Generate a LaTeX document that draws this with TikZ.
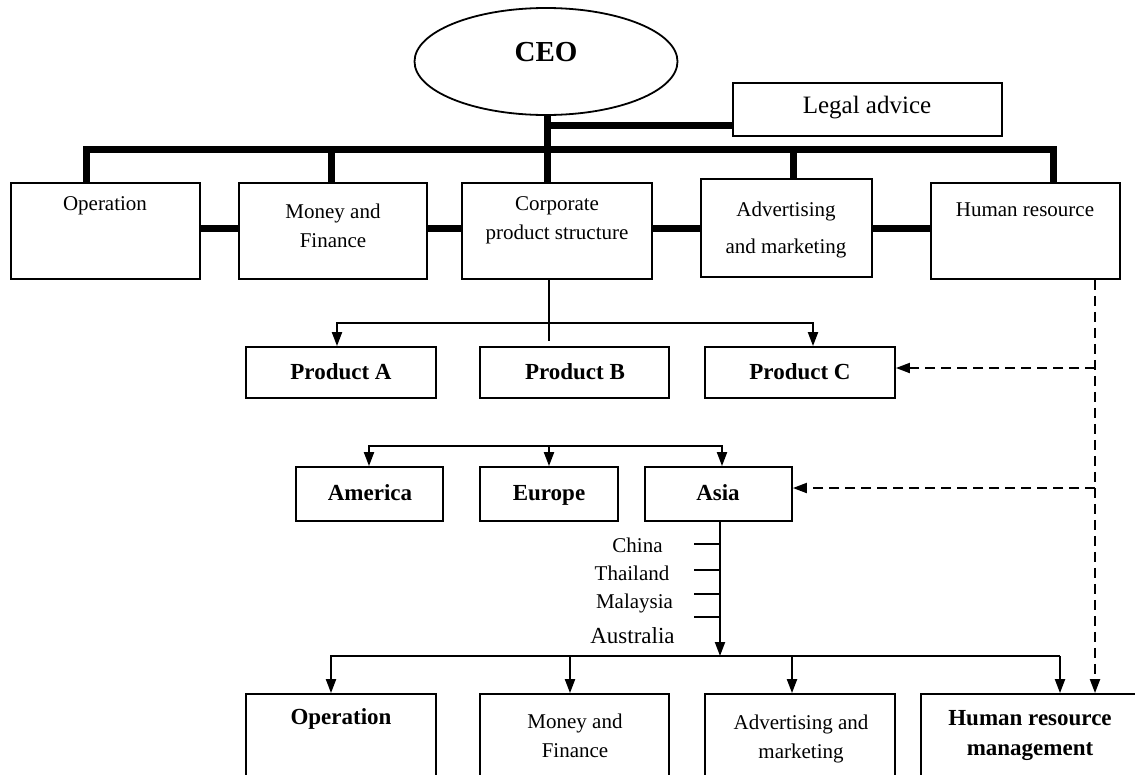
\documentclass[tikz,border=0pt]{standalone}
\usepackage{fontspec}
\setmainfont{Liberation Serif}
\usetikzlibrary{arrows.meta,shapes.geometric}
\begin{document}
\begin{tikzpicture}[x=1pt,y=-1pt,
  box/.style={draw,line width=1.8pt,inner sep=0pt},
  bar/.style={line width=7pt},
  ln/.style={line width=2pt},
  arr/.style={line width=2pt,-{Triangle[length=14pt,width=10pt]}},
  dsh/.style={line width=2pt,dash pattern=on 10pt off 6pt,-{Triangle[length=14pt,width=10pt]}},
  txt/.style={inner sep=0pt,align=center,font=\fontsize{21}{29}\selectfont},
  btxt/.style={inner sep=0pt,align=center,font=\bfseries\fontsize{23}{30}\selectfont}]
\useasboundingbox (0,0) rectangle (1135,774);
\clip (0,0) rectangle (1135,774);

% shapes
\node[ellipse,draw,line width=1.8pt,minimum width=263pt,minimum height=107pt,inner sep=0pt] (ceo) at (546,61.5) {};
\node[box,minimum width=269pt,minimum height=53pt] (legal) at (867.5,109.5) {};
\node[box,minimum width=189pt,minimum height=96pt] (op1) at (105.5,231) {};
\node[box,minimum width=188pt,minimum height=96pt] (mf1) at (333,231) {};
\node[box,minimum width=190pt,minimum height=96pt] (cps) at (557,231) {};
\node[box,minimum width=171pt,minimum height=98pt] (adv1) at (786.5,228) {};
\node[box,minimum width=189pt,minimum height=96pt] (hr1) at (1025.5,231) {};
\node[box,minimum width=190pt,minimum height=51pt] (pa) at (341,372.5) {};
\node[box,minimum width=189pt,minimum height=51pt] (pb) at (574.5,372.5) {};
\node[box,minimum width=190pt,minimum height=51pt] (pc) at (800,372.5) {};
\node[box,minimum width=147pt,minimum height=54pt] (am) at (369.5,494) {};
\node[box,minimum width=138pt,minimum height=54pt] (eu) at (549,494) {};
\node[box,minimum width=147pt,minimum height=54pt] (as) at (718.5,494) {};
\node[box,minimum width=190pt,minimum height=100pt] (op2) at (341,744) {};
\node[box,minimum width=189pt,minimum height=100pt] (mf2) at (574.5,744) {};
\node[box,minimum width=190pt,minimum height=100pt] (adv2) at (800,744) {};
\node[box,minimum width=219pt,minimum height=100pt] (hr2) at (1030.5,744) {};

% texts
\node[inner sep=0pt,font=\bfseries\fontsize{29}{32}\selectfont] (tceo) at (546,52) {CEO};
\node[inner sep=0pt,font=\fontsize{25}{28}\selectfont] (tlegal) at (867,108) {Legal advice};
\node[txt] (top1) at (105,206) {Operation};
\node[txt] (tmf1) at (333,225.5) {Money and\\Finance};
\node[txt] (tcps) at (557,220) {Corporate\\product structure};
\node[txt,font=\fontsize{21}{37}\selectfont] (tadv1) at (786,229.5) {Advertising\\and marketing};
\node[txt] (thr1) at (1025,210) {Human resource};
\node[btxt] (tpa) at (341,372) {Product A};
\node[btxt] (tpb) at (575,372) {Product B};
\node[btxt] (tpc) at (800,372) {Product C};
\node[btxt] (tam) at (370,493) {America};
\node[btxt] (teu) at (549,495.5) {Europe};
\node[btxt] (tas) at (718,493) {Asia};
\node[txt] (tchina) at (637.5,545) {China};
\node[txt] (tthai) at (632,573) {Thailand};
\node[txt] (tmal) at (634.5,603) {Malaysia};
\node[txt,font=\fontsize{23}{26}\selectfont] (taus) at (632.5,636) {Australia};
\node[btxt] (top2) at (341,719) {Operation};
\node[txt] (tmf2) at (575,735.5) {Money and\\Finance};
\node[txt] (tadv2) at (801,738.5) {Advertising and\\marketing};
\node[btxt] (thr2) at (1030,735) {Human resource\\management};

% thick top connectors
\coordinate (cj) at (547,125);
\coordinate (b1) at (86,149);
\coordinate (b2) at (331,149);
\coordinate (b3) at (547,149);
\coordinate (b4) at (793,149);
\coordinate (b5) at (1053,149);
\draw[bar] (ceo.south -| b3) -- (b3 |- cps.north);
\draw[bar] (cj) -- (cj -| legal.west);
\draw[bar] (b1 |- op1.north) -- (b1) -- (b5) -- (b5 |- hr1.north);
\draw[bar] (b2) -- (b2 |- mf1.north);
\draw[bar] (b4) -- (b4 |- adv1.north);
\draw[bar] (op1.east |- adv1.center) -- (mf1.west |- adv1.center);
\draw[bar] (mf1.east |- adv1.center) -- (cps.west |- adv1.center);
\draw[bar] (cps.east |- adv1.center) -- (adv1.west);
\draw[bar] (adv1.east) -- (hr1.west |- adv1.center);

% products
\coordinate (pbj) at (549,323);
\coordinate (pbe) at (549,341);
\coordinate (pal) at (337,323);
\coordinate (par) at (813,323);
\draw[ln] (pbj |- cps.south) -- (pbe);
\draw[arr] (pbj) -- (pal) -- (pal |- pa.north);
\draw[arr] (pbj) -- (par) -- (par |- pc.north);

% regions
\coordinate (rl) at (369,446);
\coordinate (rm) at (549,446);
\coordinate (rr) at (722,446);
\draw[arr] (rm) -- (rl) -- (rl |- am.north);
\draw[arr] (rm) -- (rr) -- (rr |- as.north);
\draw[arr] (rm) -- (rm |- eu.north);

% asia down line and ticks
\coordinate (aj) at (720,656);
\draw[arr] (aj |- as.south) -- (aj);
\coordinate (t1) at (694,544);
\coordinate (t2) at (694,570);
\coordinate (t3) at (694,594);
\coordinate (t4) at (694,617);
\draw[ln] (t1) -- (t1 -| aj);
\draw[ln] (t2) -- (t2 -| aj);
\draw[ln] (t3) -- (t3 -| aj);
\draw[ln] (t4) -- (t4 -| aj);

% bottom distribution
\coordinate (q1) at (331,656);
\coordinate (q2) at (570,656);
\coordinate (q4) at (792,656);
\coordinate (q5) at (1060,656);
\draw[arr] (q5) -- (q1) -- (q1 |- op2.north);
\draw[arr] (q2) -- (q2 |- mf2.north);
\draw[arr] (q4) -- (q4 |- adv2.north);
\draw[arr] (q5) -- (q5 |- hr2.north);

% dashed links
\coordinate (dx) at (1095,368);
\coordinate (dy) at (1095,488);
\draw[dsh] (dx |- hr1.south) -- (dx |- hr2.north);
\draw[dsh] (dx) -- (dx -| pc.east);
\draw[dsh] (dy) -- (dy -| as.east);
\end{tikzpicture}
\end{document}
